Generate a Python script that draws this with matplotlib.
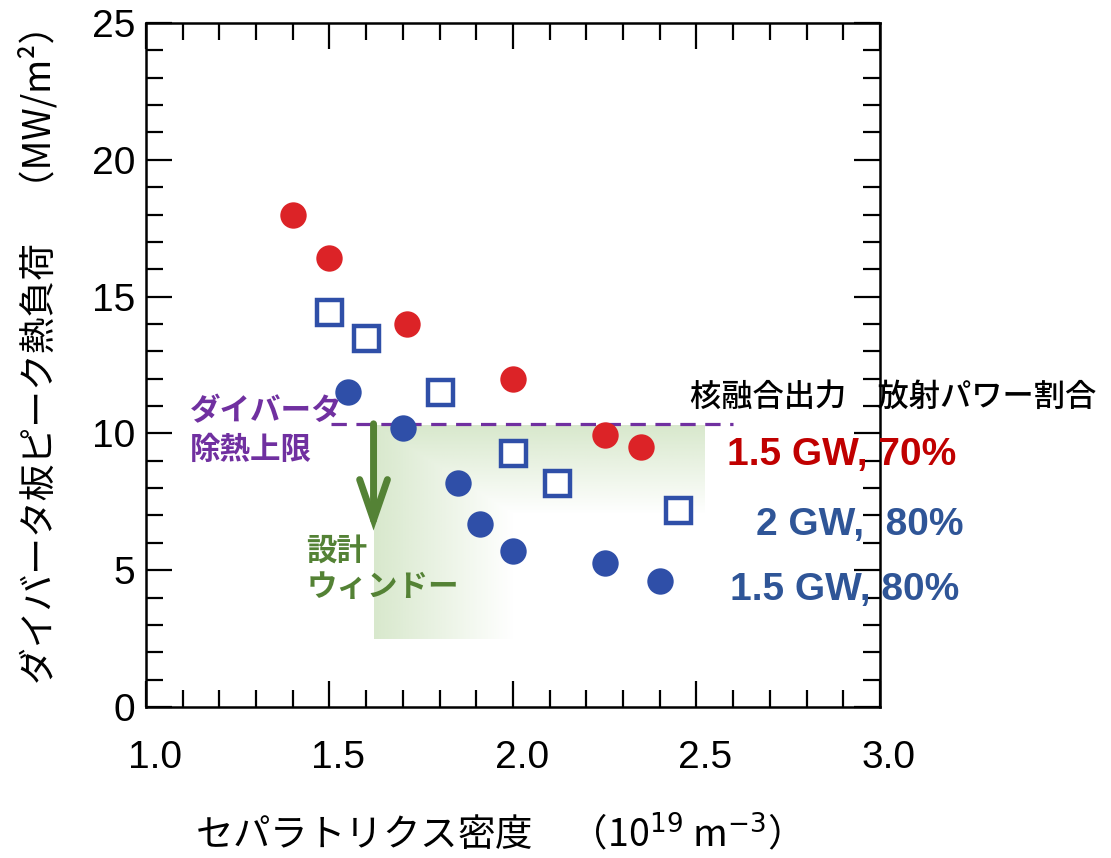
import numpy as np
import matplotlib
matplotlib.use("Agg")
import matplotlib.pyplot as plt
from matplotlib.transforms import ScaledTranslation

plt.rcParams['font.family'] = ['Noto Sans CJK JP', 'DejaVu Sans']

# 1.5 GW, 70%
red_x = [1.40, 1.50, 1.71, 2.00, 2.25, 2.35]
red_y = [18.0, 16.4, 14.0, 12.0, 9.95, 9.5]
# 2 GW, 80%
sq_x = [1.50, 1.60, 1.80, 2.00, 2.12, 2.45]
sq_y = [14.45, 13.5, 11.5, 9.3, 8.2, 7.2]
# 1.5 GW, 80%
blue_x = [1.55, 1.70, 1.85, 1.91, 2.00, 2.25, 2.40]
blue_y = [11.5, 10.2, 8.2, 6.7, 5.7, 5.25, 4.6]

limit_y = 10.35          # divertor heat removal limit
limit_x = [1.505, 2.60]
arrow_x = 1.62
arrow_tip = 6.45

series_labels = ["1.5 GW, 70%", "2 GW,  80%", "1.5 GW, 80%"]

RED = '#dc2327'
BLUE = '#2f4fa8'
PURPLE = '#7030a0'
GREEN = '#548235'

W, H = 1111, 858
fig = plt.figure(figsize=(W / 100, H / 100), dpi=100)
ax = fig.add_axes([146 / W, 1 - 707 / H, (880 - 146) / W, (707 - 23) / H])

def fx(px):
    return px / W

def fy(py):
    return 1 - py / H

# design window shading: fades to the right in the lower part, downwards in the upper part
gx0, gx1, gx_mid = 1.62, 2.52, 2.0
gy0, gy1, gy_mid = 2.5, 10.3, 7.05
nx, ny = 400, 400
xs = np.linspace(gx0, gx1, nx)
ys = np.linspace(gy1, gy0, ny)
XX, YY = np.meshgrid(xs, ys)
a_left = np.where(XX <= gx_mid, 1 - (XX - gx0) / (gx_mid - gx0), 0.0)
a_top = np.where(YY >= gy_mid, (YY - gy_mid) / (gy1 - gy_mid), 0.0)
alpha = np.clip(np.maximum(a_left, a_top), 0, 1) * 0.45
img = np.zeros((ny, nx, 4))
img[..., 0] = 0.66
img[..., 1] = 0.80
img[..., 2] = 0.56
img[..., 3] = alpha
ax.imshow(img, extent=[gx0, gx1, gy0, gy1], aspect='auto', zorder=1, interpolation='bilinear')

ax.plot(limit_x, [limit_y, limit_y], color=PURPLE, lw=2.3, dashes=(4.8, 3.0), zorder=2)

ax.annotate('', xy=(arrow_x, arrow_tip), xytext=(arrow_x, limit_y),
            arrowprops=dict(arrowstyle='->,head_length=2.9,head_width=1.0',
                            color=GREEN, lw=5, capstyle='round', joinstyle='miter',
                            shrinkA=0, shrinkB=0),
            zorder=3)

ax.plot(red_x, red_y, 'o', ms=19, color=RED, mec='none', zorder=4)
ax.plot(sq_x, sq_y, 's', ms=18, mfc='white', mec=BLUE, mew=3.2, zorder=4)
ax.plot(blue_x, blue_y, 'o', ms=19, color=BLUE, mec='none', zorder=4)

ax.text(1.12, 10.1, "ダイバータ\n除熱上限", color=PURPLE, fontsize=22,
        fontweight='bold', ha='left', va='center', linespacing=1.25, zorder=5)
ax.text(1.437, 5.05, "設計\nウィンドー", color=GREEN, fontsize=22,
        fontweight='bold', ha='left', va='center', linespacing=1.2, zorder=5)

ax.set_xlim(1.0, 3.0)
ax.set_ylim(0, 25)
ax.set_xticks([1.0, 1.5, 2.0, 2.5, 3.0])
ax.set_xticks(np.arange(1.0, 3.01, 0.1), minor=True)
ax.set_yticks([0, 5, 10, 15, 20, 25])
ax.set_yticks(np.arange(0, 26, 1), minor=True)
ax.set_xticklabels(["1.0", "1.5", "2.0", "2.5", "3.0"])

ax.tick_params(which='both', direction='in', top=True, right=True, width=1.6, color='black')
ax.tick_params(which='major', length=19)
ax.tick_params(which='minor', length=12)
ax.tick_params(axis='y', which='major', pad=8, labelsize=28)
ax.tick_params(axis='x', which='major', pad=24, labelsize=28)
for lab in ax.get_xticklabels() + ax.get_yticklabels():
    lab.set_fontfamily('Liberation Sans')
for lab in ax.get_xticklabels():
    lab.set_transform(lab.get_transform() + ScaledTranslation(0.09, 0, fig.dpi_scale_trans))
for sp in ax.spines.values():
    sp.set_linewidth(1.8)

fig.text(fx(40), fy(345), "ダイバータ板ピーク熱負荷　（MW/m²）", rotation=90,
         fontsize=26.5, ha='center', va='center')
fig.text(fx(488), fy(835), "セパラトリクス密度　（10$^{19}$ m$^{-3}$）",
         fontsize=27, ha='center', va='center')

fig.text(fx(690), fy(397), "核融合出力　放射パワー割合", fontsize=22.5,
         fontweight='medium', ha='left', va='center')
label_colors = ['#c00000', '#2f5597', '#2f5597']
label_pos = [(727, 455), (756, 525), (730, 590)]
for txt, col, (px, py) in zip(series_labels, label_colors, label_pos):
    fig.text(fx(px), fy(py), txt, color=col, fontsize=28, fontweight='bold',
             family='Liberation Sans', ha='left', va='center')

fig.savefig("out.png", dpi=100)
